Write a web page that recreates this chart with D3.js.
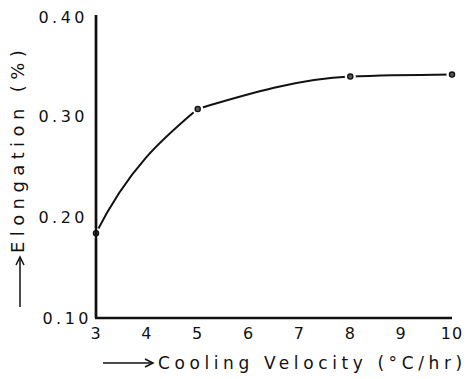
<!DOCTYPE html>
<html lang="en">
<head>
    <meta charset="UTF-8">
    <title>Elongation vs Cooling Velocity</title>
    <script src="https://cdn.jsdelivr.net/npm/d3@7"></script>
    <style>
        body { margin: 0; background: #fff; }
        svg text { font-family: "DejaVu Sans", sans-serif; fill: #111; }
        .axis-line { stroke: #111; stroke-width: 2.4; }
    </style>
</head>
<body>
<div id="chart"></div>
<script>
    // data
    var velocity = [3, 5, 8, 10];
    var elongation = [0.184, 0.307, 0.339, 0.341];
    var xTicks = [3, 4, 5, 6, 7, 8, 9, 10];
    var yTicks = [0.10, 0.20, 0.30, 0.40];

    var width = 467, height = 379;
    var margin = {top: 15, right: 15, bottom: 61, left: 96};

    var svg = d3.select('#chart').append('svg')
        .attr('width', width)
        .attr('height', height);

    var x = d3.scaleLinear().domain([3, 10]).range([margin.left, width - margin.right]);
    var y = d3.scaleLinear().domain([0.10, 0.40]).range([height - margin.bottom, margin.top]);

    // axes are plain lines, no tick marks
    svg.append('line').attr('class', 'axis-line')
        .attr('x1', x(3)).attr('x2', x(3))
        .attr('y1', y(0.40)).attr('y2', y(0.10));
    svg.append('line').attr('class', 'axis-line')
        .attr('x1', x(3) - 1).attr('x2', x(10))
        .attr('y1', y(0.10)).attr('y2', y(0.10));

    svg.selectAll('.ytick')
        .data(yTicks)
        .enter().append('text')
        .attr('class', 'ytick')
        .attr('x', d => x(3) - 8 + (d === 0.10 ? 4 : 0))
        .attr('y', d => y(d) + (d === 0.40 ? 2 : 0))
        .attr('dy', '0.36em')
        .attr('text-anchor', 'end')
        .style('font-size', '16px')
        .style('letter-spacing', '3.5px')
        .text(d => d.toFixed(2));

    svg.selectAll('.xtick')
        .data(xTicks)
        .enter().append('text')
        .attr('class', 'xtick')
        .attr('x', d => x(d))
        .attr('y', y(0.10) + 15)
        .attr('dy', '0.36em')
        .attr('text-anchor', 'middle')
        .style('font-size', '16px')
        .style('letter-spacing', '1px')
        .text(d => d);

    // x axis title with arrow
    var arrowY = 363;
    svg.append('line')
        .attr('x1', 103).attr('x2', 152)
        .attr('y1', arrowY).attr('y2', arrowY)
        .attr('stroke', '#111').attr('stroke-width', 1.5);
    svg.append('path')
        .attr('d', 'M145,' + (arrowY - 4) + 'L153,' + arrowY + 'L145,' + (arrowY + 4))
        .attr('fill', 'none').attr('stroke', '#111').attr('stroke-width', 1.5);
    svg.append('text')
        .attr('x', 158)
        .attr('y', arrowY)
        .attr('dy', '0.36em')
        .style('font-size', '17px')
        .style('letter-spacing', '4.6px')
        .text('Cooling Velocity (\u00B0C/hr)');

    // y axis title with arrow
    var arrowX = 20;
    svg.append('line')
        .attr('x1', arrowX).attr('x2', arrowX)
        .attr('y1', 307).attr('y2', 258)
        .attr('stroke', '#111').attr('stroke-width', 1.5);
    svg.append('path')
        .attr('d', 'M' + (arrowX - 4) + ',265L' + arrowX + ',257L' + (arrowX + 4) + ',265')
        .attr('fill', 'none').attr('stroke', '#111').attr('stroke-width', 1.5);
    svg.append('text')
        .attr('transform', 'translate(24,253) rotate(-90)')
        .style('font-size', '18px')
        .style('letter-spacing', '5.4px')
        .text('Elongation (%)');

    var pts = velocity.map((v, i) => [v, elongation[i]]);

    // rising part (3 -> 5): cubic with a steep start and a softer end tangent
    var startSlope = 0.10, kneeSlope = 0.043;
    var p0 = pts[0], p1 = pts[1], h = p1[0] - p0[0];
    var rise = d3.path();
    rise.moveTo(x(p0[0]), y(p0[1]));
    rise.bezierCurveTo(
        x(p0[0] + h / 3), y(p0[1] + startSlope * h / 3),
        x(p1[0] - h / 3), y(p1[1] - kneeSlope * h / 3),
        x(p1[0]), y(p1[1]));

    svg.append('path')
        .attr('d', rise.toString())
        .attr('fill', 'none')
        .attr('stroke', '#111')
        .attr('stroke-width', 2);

    // flat part (5 -> 10)
    var line = d3.line()
        .x(d => x(d[0]))
        .y(d => y(d[1]))
        .curve(d3.curveMonotoneX);

    svg.append('path')
        .datum(pts.slice(1))
        .attr('d', line)
        .attr('fill', 'none')
        .attr('stroke', '#111')
        .attr('stroke-width', 2);

    // white halo first so the line breaks around each point
    svg.selectAll('.halo')
        .data(pts)
        .enter().append('circle')
        .attr('class', 'halo')
        .attr('cx', d => x(d[0]))
        .attr('cy', d => y(d[1]))
        .attr('r', 5.5)
        .attr('fill', '#fff');

    svg.selectAll('.pt')
        .data(pts)
        .enter().append('circle')
        .attr('class', 'pt')
        .attr('cx', d => x(d[0]))
        .attr('cy', d => y(d[1]))
        .attr('r', 2.6)
        .attr('fill', '#555')
        .attr('stroke', '#111')
        .attr('stroke-width', 1.3);

    // keep the y axis on top of the halo at x = 3
    svg.append('line').attr('class', 'axis-line')
        .attr('x1', x(3)).attr('x2', x(3))
        .attr('y1', y(0.40)).attr('y2', y(0.10));
</script>
</body>
</html>
